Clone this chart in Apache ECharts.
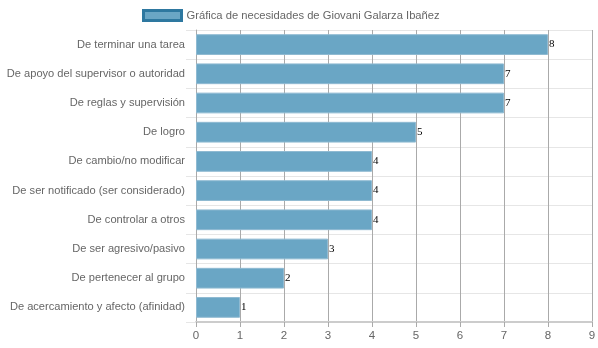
<!DOCTYPE html>
<html><head><meta charset="utf-8">
<script src="https://cdn.jsdelivr.net/npm/echarts@6/dist/echarts.min.js"></script>
<style>html,body{margin:0;padding:0;background:#fff}#c{width:598px;height:348px}</style>
</head><body><div id="c"></div>
<script>
const categories = ["De terminar una tarea","De apoyo del supervisor o autoridad","De reglas y supervisión","De logro","De cambio/no modificar","De ser notificado (ser considerado)","De controlar a otros","De ser agresivo/pasivo","De pertenecer al grupo","De acercamiento y afecto (afinidad)"];
const values = [8,7,7,5,4,4,4,3,2,1];
const seriesName = "Gráfica de necesidades de Giovani Galarza Ibañez";
const chart = echarts.init(document.getElementById('c'), null, {renderer:'canvas'});
chart.setOption({
  animation:false,
  textStyle:{fontFamily:'Liberation Sans, Arial, sans-serif'},
  legend:{top:4,left:137,itemWidth:38,itemHeight:10,itemGap:5,icon:'rect',
    textStyle:{color:'#666',fontSize:11.2,fontFamily:'Liberation Sans, Arial, sans-serif'},
    itemStyle:{color:'#6aa6c5',borderColor:'#2e78a0',borderWidth:3},
    data:[seriesName]},
  grid:{left:196,right:6,top:30,bottom:26,containLabel:false,outerBoundsMode:'none'},
  xAxis:{type:'value',min:0,max:9,interval:1,
    axisLine:{show:true,lineStyle:{color:'#ccc',width:2}},
    axisTick:{show:true,length:5,lineStyle:{color:'#aaa'}},
    axisLabel:{color:'#666',fontSize:11.5,margin:8},
    splitLine:{show:true,lineStyle:{color:'#aaa',width:1}}},
  yAxis:{type:'category',inverse:true,data:categories,
    axisLine:{show:true,lineStyle:{color:'#aaa'}},
    axisTick:{show:true,length:10,alignWithLabel:false,lineStyle:{color:'#e6e6e6'}},
    axisLabel:{color:'#666',fontSize:11.1,margin:11},
    splitLine:{show:true,lineStyle:{color:'#e6e6e6'}}},
  series:[{name:seriesName,type:'bar',data:values,barWidth:'71%',
    itemStyle:{color:'#6aa6c5',borderColor:'#8fbad2',borderWidth:1},
    label:{show:true,position:'right',distance:1,color:'#000',fontSize:11,
      fontFamily:'Liberation Serif, Times New Roman, serif'}}]
});
</script></body></html>
